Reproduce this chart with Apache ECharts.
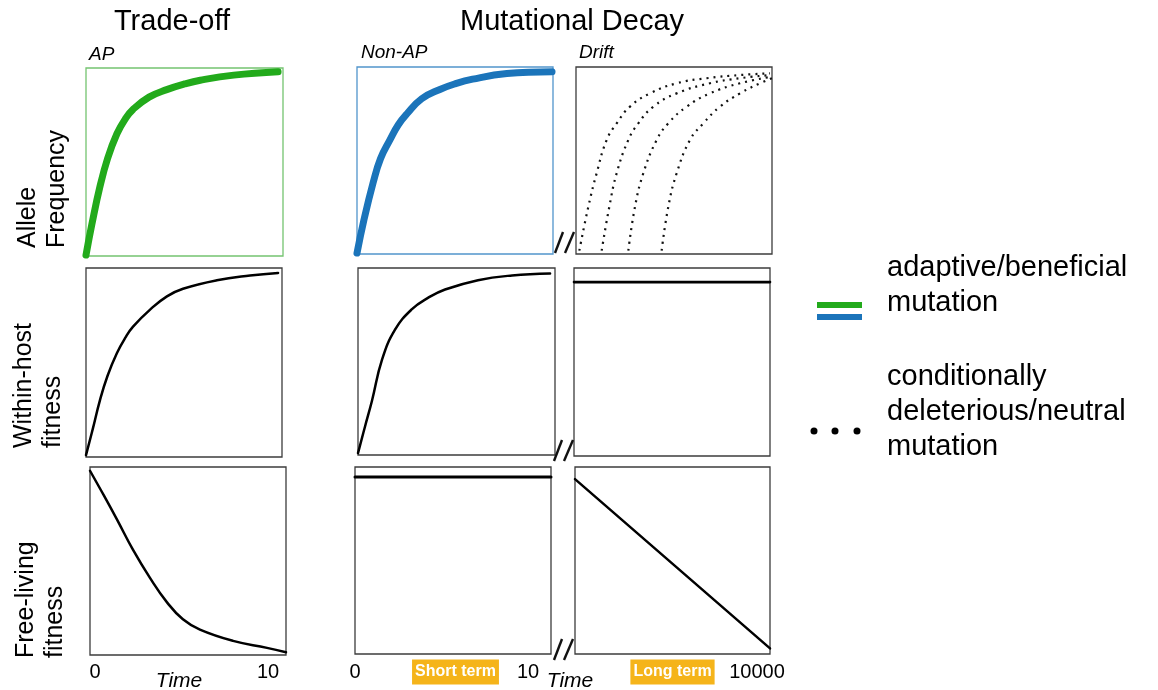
<!DOCTYPE html>
<html><head><meta charset="utf-8">
<script src="https://cdn.jsdelivr.net/npm/echarts@6/dist/echarts.min.js"></script>
<style>html,body{margin:0;padding:0;background:#fff}#c{width:1158px;height:690px}</style>
</head><body><div id="c"></div>
<script>
// ---------- data ----------
const colTitles = ['Trade-off', 'Mutational Decay'];
const panelTags = ['AP', 'Non-AP', 'Drift'];
const rowLabels = ['Allele\nFrequency', 'Within-host\nfitness', 'Free-living\nfitness'];
const shortTicks = ['0', '10'];
const longTicks = ['10000'];
const timeLabel = 'Time';
const termLabels = ['Short term', 'Long term'];
const legendLabels = ['adaptive/beneficial\nmutation', 'conditionally\ndeleterious/neutral\nmutation'];

// Allele frequency, AP (green)
const apT    = [0, 0.3, 0.71, 1.1, 1.57, 2.0, 2.39, 3.2, 4.1, 5.0, 5.8, 7.5, 9.75];
const apFreq = [0.005, 0.17, 0.37, 0.52, 0.65, 0.73, 0.78, 0.845, 0.885, 0.915, 0.935, 0.962, 0.98];
// Allele frequency, Non-AP (blue)
const napT    = [0, 0.35, 0.82, 1.2, 1.68, 2.1, 2.55, 3.3, 4.23, 5.0, 5.9, 7.65, 9.95];
const napFreq = [0.005, 0.18, 0.38, 0.51, 0.61, 0.69, 0.75, 0.83, 0.88, 0.91, 0.935, 0.965, 0.975];
// Allele frequency, drift (dotted, long term)
const drift1T = [170, 630, 1054, 1565, 2075, 2755, 3776, 5136, 6667, 8367, 9898];
const drift1F = [0.018, 0.253, 0.432, 0.61, 0.699, 0.788, 0.859, 0.913, 0.94, 0.957, 0.966];
const drift2T = [1310, 1701, 2075, 2670, 3180, 3946, 5136, 6837, 8367, 9898];
const drift2F = [0.018, 0.253, 0.432, 0.61, 0.699, 0.788, 0.859, 0.913, 0.94, 0.957];
const drift3T = [2670, 3010, 3435, 4116, 4710, 5646, 6837, 8367, 10000];
const drift3F = [0.018, 0.253, 0.432, 0.61, 0.699, 0.788, 0.859, 0.913, 0.948];
const drift4T = [4370, 4710, 5136, 5816, 6497, 7347, 8367, 9388, 10000];
const drift4F = [0.018, 0.253, 0.432, 0.61, 0.699, 0.788, 0.859, 0.913, 0.94];
// Within-host fitness
const whAT = [0, 0.35, 0.71, 1.1, 1.58, 2.0, 2.4, 3.27, 4.13, 4.95, 6.68, 8.37, 9.8];
const whAF = [0.01, 0.15, 0.30, 0.43, 0.55, 0.63, 0.69, 0.78, 0.85, 0.89, 0.935, 0.96, 0.974];
const whBT = [0, 0.35, 0.71, 1.22, 1.88, 2.74, 3.55, 4.42, 6.09, 7.82, 9.75];
const whBF = [0.01, 0.15, 0.29, 0.51, 0.67, 0.78, 0.84, 0.885, 0.935, 0.96, 0.97];
const whCT = [0, 10000];
const whCF = [0.925, 0.925];
// Free-living fitness
const flAT = [0, 0.7, 1.38, 2.19, 3.06, 3.93, 4.74, 5.61, 7.30, 9.03, 10];
const flAF = [0.98, 0.85, 0.72, 0.56, 0.41, 0.28, 0.19, 0.135, 0.075, 0.038, 0.015];
const flBT = [0, 10];
const flBF = [0.947, 0.947];
const flCT = [0, 10000];
const flCF = [0.935, 0.03];

// ---------- layout ----------
const FONT = "'Liberation Sans', Arial, Helvetica, sans-serif";
const GREEN = '#22AA1B', BLUE = '#1B74BA', ORANGE = '#F5B41A';
const BORDER = '#3c3c3c';
const grids = [
  {left: 86,  top: 68,  width: 197, height: 188, borderColor: '#74C470'},
  {left: 357, top: 67,  width: 196, height: 187, borderColor: '#5195CC'},
  {left: 576, top: 67,  width: 196, height: 187, borderColor: BORDER},
  {left: 86,  top: 268, width: 196, height: 189, borderColor: BORDER},
  {left: 358, top: 268, width: 197, height: 187, borderColor: BORDER},
  {left: 574, top: 268, width: 196, height: 188, borderColor: BORDER},
  {left: 90,  top: 467, width: 196, height: 188, borderColor: BORDER},
  {left: 355, top: 467, width: 196, height: 187, borderColor: BORDER},
  {left: 575, top: 467, width: 195, height: 187, borderColor: BORDER}
].map(g => Object.assign({show: true, borderWidth: 1.3, backgroundColor: 'transparent'}, g));

const xAxes = grids.map((g, i) => ({
  type: 'value', gridIndex: i, min: 0, max: (i % 3 === 2) ? 10000 : 10, show: false
}));
const yAxes = grids.map((g, i) => ({
  type: 'value', gridIndex: i, min: 0, max: 1, show: false
}));

function pairs(xs, ys) { return xs.map((x, i) => [x, ys[i]]); }
function line(idx, xs, ys, color, width, type) {
  return {
    type: 'line', xAxisIndex: idx, yAxisIndex: idx, data: pairs(xs, ys),
    showSymbol: false, symbol: 'none', smooth: 0.45, clip: false,
    silent: true, animation: false,
    lineStyle: {color: color, width: width, type: type || 'solid', cap: type ? 'butt' : 'round', join: 'round'}
  };
}
const dots = [2, 5];
const series = [
  line(0, apT, apFreq, GREEN, 7),
  line(1, napT, napFreq, BLUE, 7),
  line(2, drift1T, drift1F, '#111', 2.2, dots),
  line(2, drift2T, drift2F, '#111', 2.2, dots),
  line(2, drift3T, drift3F, '#111', 2.2, dots),
  line(2, drift4T, drift4F, '#111', 2.2, dots),
  line(3, whAT, whAF, '#000', 2.5),
  line(4, whBT, whBF, '#000', 2.5),
  line(5, whCT, whCF, '#000', 2.6),
  line(6, flAT, flAF, '#000', 2.5),
  line(7, flBT, flBF, '#000', 3),
  line(8, flCT, flCF, '#000', 2.5)
];

function txt(x, y, text, opts) {
  return {type: 'text', x: x, y: y, silent: true, rotation: (opts && opts.rotation) || 0,
    style: Object.assign({text: text, fill: '#000', fontFamily: FONT, fontSize: 20,
      align: 'center', verticalAlign: 'middle'}, opts && opts.style)};
}
function brk(cx, cy) {
  const s = {stroke: '#111', lineWidth: 2.4};
  return [
    {type: 'line', silent: true, shape: {x1: cx - 9, y1: cy + 10, x2: cx - 1, y2: cy - 11}, style: s},
    {type: 'line', silent: true, shape: {x1: cx + 1, y1: cy + 10, x2: cx + 10, y2: cy - 11}, style: s}
  ];
}

const graphic = [
  txt(172, 22, colTitles[0], {style: {fontSize: 29}}),
  txt(572, 22, colTitles[1], {style: {fontSize: 29}}),
  txt(89, 55, panelTags[0], {style: {fontSize: 19, fontStyle: 'italic', align: 'left'}}),
  txt(361, 53, panelTags[1], {style: {fontSize: 19, fontStyle: 'italic', align: 'left'}}),
  txt(579, 53, panelTags[2], {style: {fontSize: 19, fontStyle: 'italic', align: 'left'}}),
  txt(14, 248, rowLabels[0], {rotation: Math.PI / 2, style: {fontSize: 25, lineHeight: 29, align: 'left', verticalAlign: 'top'}}),
  txt(10, 448, rowLabels[1], {rotation: Math.PI / 2, style: {fontSize: 25, lineHeight: 29, align: 'left', verticalAlign: 'top'}}),
  txt(12, 658, rowLabels[2], {rotation: Math.PI / 2, style: {fontSize: 25, lineHeight: 29, align: 'left', verticalAlign: 'top'}}),
  txt(95, 672, shortTicks[0]),
  txt(268, 672, shortTicks[1]),
  txt(355, 672, shortTicks[0]),
  txt(528, 672, shortTicks[1]),
  txt(757, 672, longTicks[0]),
  txt(179, 681, timeLabel, {style: {fontSize: 21, fontStyle: 'italic'}}),
  txt(570, 681, timeLabel, {style: {fontSize: 21, fontStyle: 'italic'}}),
  txt(455.5, 672, termLabels[0], {style: {fontSize: 16, fontWeight: 'bold', fill: '#fff', backgroundColor: ORANGE, padding: [5, 3, 4, 3]}}),
  txt(672.5, 672, termLabels[1], {style: {fontSize: 16, fontWeight: 'bold', fill: '#fff', backgroundColor: ORANGE, padding: [5, 3, 4, 3]}}),
  {type: 'rect', silent: true, shape: {x: 817, y: 302, width: 45, height: 6}, style: {fill: GREEN}},
  {type: 'rect', silent: true, shape: {x: 817, y: 314, width: 45, height: 6}, style: {fill: BLUE}},
  {type: 'circle', silent: true, shape: {cx: 814, cy: 431, r: 3.5}, style: {fill: '#000'}},
  {type: 'circle', silent: true, shape: {cx: 835, cy: 431, r: 3.5}, style: {fill: '#000'}},
  {type: 'circle', silent: true, shape: {cx: 857, cy: 431, r: 3.5}, style: {fill: '#000'}},
  txt(887, 250.5, legendLabels[0], {style: {fontSize: 29, lineHeight: 35, align: 'left', verticalAlign: 'top'}}),
  txt(887, 359.5, legendLabels[1], {style: {fontSize: 29, lineHeight: 35, align: 'left', verticalAlign: 'top'}})
].concat(brk(564, 243), brk(563, 451), brk(563, 650));

const chart = echarts.init(document.getElementById('c'), null, {renderer: 'canvas'});
chart.setOption({
  animation: false,
  backgroundColor: '#fff',
  grid: grids,
  xAxis: xAxes,
  yAxis: yAxes,
  series: series,
  graphic: graphic
});
</script></body></html>
